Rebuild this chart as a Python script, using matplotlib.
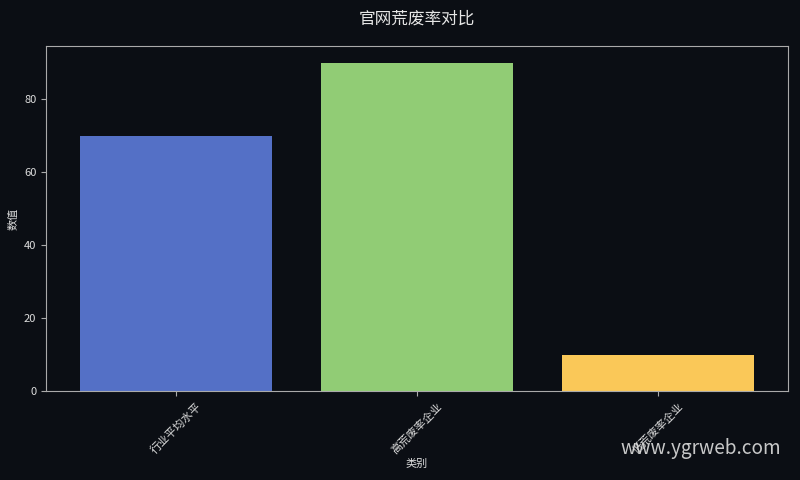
import matplotlib
matplotlib.use("Agg")
import matplotlib.pyplot as plt

plt.rcParams['font.family'] = ['Noto Sans CJK SC', 'DejaVu Sans']

categories = ["行业平均水平", "高荒废率企业", "低荒废率企业"]
values = [70, 90, 10]
colors = ["#5470c6", "#91cc75", "#fac858"]

bg = "#0b0e14"
fig, ax = plt.subplots(figsize=(8, 4.8), dpi=100)
fig.patch.set_facecolor(bg)
ax.set_facecolor(bg)

ax.bar(categories, values, color=colors, width=0.8)
ax.set_ylim(0, max(values) * 1.05)

ax.set_title("官网荒废率对比", color="#e6e6e6", fontsize=12, pad=16)
ax.set_xlabel("类别", color="#dddddd", fontsize=8, labelpad=2)
ax.set_ylabel("数值", color="#dddddd", fontsize=8)
ax.tick_params(axis='both', colors="#aaaaaa", labelcolor="#dddddd", labelsize=8)
ax.tick_params(axis='x', labelrotation=45)
for s in ax.spines.values():
    s.set_color("#aaaaaa")

fig.subplots_adjust(left=0.0575, right=0.985, top=0.904, bottom=0.185)
fig.text(0.977, 0.043, "www.ygrweb.com", color="#dddddd", fontsize=13.7,
         ha="right", va="bottom", alpha=0.9, family=['Noto Sans CJK SC'])

fig.savefig("out.png", facecolor=bg)
